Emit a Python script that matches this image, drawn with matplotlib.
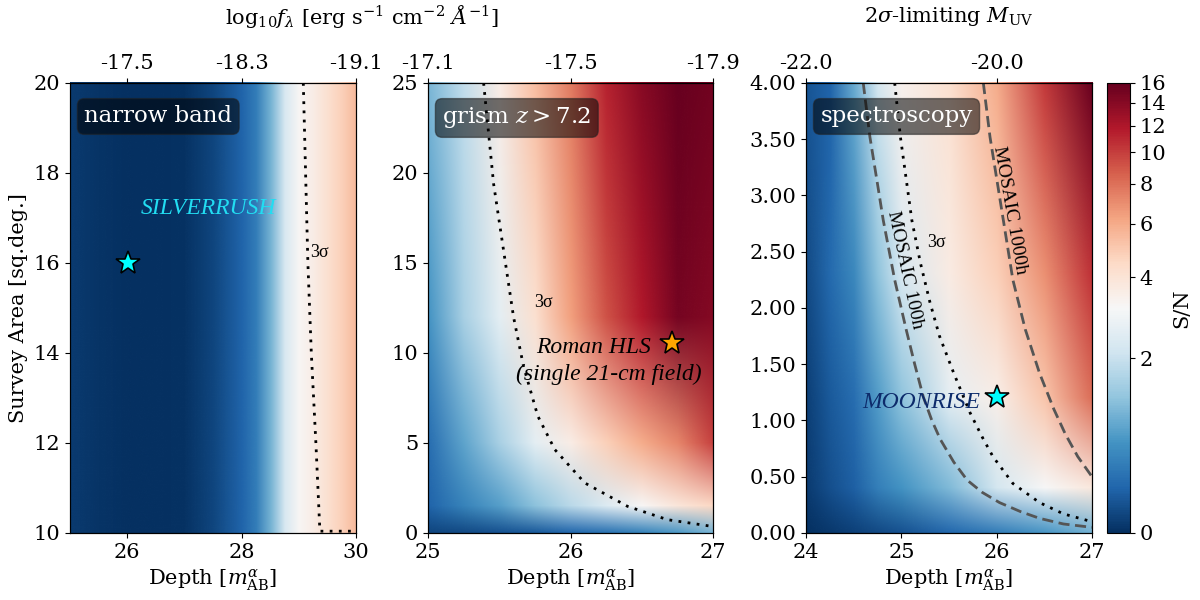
import numpy as np
import matplotlib
matplotlib.use("Agg")
import matplotlib.pyplot as plt
from matplotlib.colors import FuncNorm
from matplotlib.image import NonUniformImage

plt.rcParams['font.family'] = 'DejaVu Serif'
plt.rcParams['mathtext.fontset'] = 'dejavuserif'
plt.rcParams['font.size'] = 15

# ---------------- data ----------------
# narrow band: S/N vs depth (no area dependence)
nb_depth = [25, 25.5, 26, 26.5, 27, 27.5, 28, 28.25, 28.5, 28.75, 29, 29.25, 29.5, 29.75, 30]
nb_area = [10, 20]
nb_sn = [0.06, 0.03, 0.01, 0.0, 0.02, 0.12, 0.33, 0.55, 1.1, 2.3, 3.2, 3.6, 4.2, 4.8, 5.5]
nb_3sig_depth = [29.08, 29.12, 29.16, 29.22, 29.30, 29.37, 29.45, 30.0]
nb_3sig_area = [20, 18, 16, 14, 12, 10.04, 10.04, 10.04]

# grism z>7.2
gr_depth = [25, 25.25, 25.5, 25.75, 26, 26.25, 26.5, 26.75, 27]
gr_area = [0, 1.5, 5, 12, 25]
gr_sn_a0 = [0.12, 0.15, 0.2, 0.25, 0.35, 0.45, 0.6, 0.85, 1.15]
gr_sn_a1 = [0.33, 0.6, 0.9, 1.3, 1.8, 2.4, 3.2, 3.9, 4.5]
gr_sn_a5 = [0.4, 0.95, 1.6, 2.6, 3.6, 4.8, 6.0, 7.2, 9.8]
gr_sn_a12 = [0.76, 1.6, 2.6, 4.2, 6.4, 9.2, 11.8, 15.0, 14.1]
gr_sn_a25 = [1.15, 1.9, 3.6, 5.4, 7.6, 11.2, 14.0, 16.0, 15.1]
gr_3sig_depth = [25.39, 25.46, 25.53, 25.60, 25.67, 25.77, 25.89, 26.10, 26.40, 26.68, 26.99]
gr_3sig_area = [25, 19.4, 15.7, 12.0, 9.26, 6.5, 4.63, 2.78, 1.48, 0.74, 0.37]

# spectroscopy
sp_depth = [24, 24.25, 24.5, 24.75, 25, 25.5, 26, 26.5, 27]
sp_area = [0, 0.4, 1.2, 2.3, 4.0]
sp_sn_a0 = [0.0, 0.05, 0.1, 0.15, 0.2, 0.35, 0.55, 0.8, 1.1]
sp_sn_a04 = [0.06, 0.19, 0.29, 0.57, 0.76, 1.2, 2.2, 3.1, 3.8]
sp_sn_a12 = [0.09, 0.25, 0.4, 0.86, 1.34, 2.65, 3.5, 5.1, 8.1]
sp_sn_a23 = [0.15, 0.37, 0.66, 1.34, 2.3, 3.65, 4.8, 6.9, 10.6]
sp_sn_a40 = [0.22, 0.33, 1.03, 2.2, 3.4, 4.2, 6.0, 10.2, 16.0]
sp_3sig_depth = [24.93, 24.99, 25.05, 25.11, 25.2, 25.3, 25.4, 25.55, 25.72, 25.85, 25.96,
                 26.17, 26.45, 26.7, 27.0]
sp_3sig_area = [4.0, 3.52, 3.15, 2.78, 2.4, 2.05, 1.75, 1.42, 1.07, 0.85, 0.68,
                0.44, 0.27, 0.17, 0.1]
sp_100h_depth = [24.6, 24.67, 24.75, 24.81, 24.93, 25.05, 25.14, 25.23, 25.32, 25.41, 25.55,
                 25.69, 25.85, 26.03, 26.25, 26.45, 26.7, 27.0]
sp_100h_area = [4.0, 3.52, 3.1, 2.78, 2.25, 1.81, 1.5, 1.21, 1.0, 0.83, 0.63,
                0.47, 0.36, 0.27, 0.19, 0.13, 0.08, 0.05]
sp_1000h_depth = [25.86, 25.93, 26.0, 26.07, 26.17, 26.30, 26.45, 26.6, 26.72, 26.85, 27.0]
sp_1000h_area = [4.0, 3.52, 3.15, 2.78, 2.25, 1.81, 1.42, 1.1, 0.88, 0.68, 0.5]

# top axis labels
nb_top_ticks = [26, 28, 30]
nb_top_labels = ['-17.5', '-18.3', '-19.1']
gr_top_ticks = [25, 26, 27]
gr_top_labels = ['-17.1', '-17.5', '-17.9']
sp_top_ticks = [24, 26]
sp_top_labels = ['-22.0', '-20.0']

cbar_ticks = [0, 2, 4, 6, 8, 10, 12, 14, 16]

# ---------------- plotting ----------------
norm = FuncNorm((np.log1p, np.expm1), vmin=0, vmax=16)
cmap = 'RdBu_r'
serif2 = 'Liberation Serif'
box = dict(boxstyle='round,pad=0.3', facecolor='black', alpha=0.55, edgecolor='#222222')


def sn_map(ax, x, y, z):
    im = NonUniformImage(ax, interpolation='bilinear', cmap=cmap, norm=norm,
                         extent=(x[0], x[-1], y[0], y[-1]))
    im.set_data(np.asarray(x, float), np.asarray(y, float), np.asarray(z, float))
    ax.add_image(im)
    return im


fig = plt.figure(figsize=(12, 6), dpi=100)
ax1 = fig.add_axes([0.0583, 0.1117, 0.2383, 0.75])
ax2 = fig.add_axes([0.3567, 0.1117, 0.2375, 0.75])
ax3 = fig.add_axes([0.6717, 0.1117, 0.2383, 0.75])
cax = fig.add_axes([0.9225, 0.1117, 0.0192, 0.75])

dot = dict(color='black', lw=2, linestyle=(0, (1, 2.3)))
dash = dict(color='#555555', lw=2, linestyle=(0, (4, 2)))

# narrow band
img = sn_map(ax1, nb_depth, nb_area, np.vstack([nb_sn, nb_sn]))
ax1.plot(nb_3sig_depth, nb_3sig_area, **dot)
ax1.text(29.2, 16.24, '3σ', fontsize=13, family=serif2, va='center')
ax1.plot(26.01, 16.0, marker='*', ms=18, mfc='cyan', mec='black', mew=1.2)
ax1.text(27.42, 17.22, 'SILVERRUSH', color='#22ddf2', fontsize=17, family=serif2,
         style='italic', ha='center', va='center')
ax1.text(0.05, 0.95, 'narrow band', transform=ax1.transAxes, color='white', fontsize=16.5,
         va='top', ha='left', bbox=box)
ax1.set_xlim(25, 30)
ax1.set_ylim(10, 20)
ax1.set_xticks([26, 28, 30])
ax1.set_yticks([10, 12, 14, 16, 18, 20])
ax1.set_ylabel('Survey Area [sq.deg.]')

# grism
gr_sn = np.array([gr_sn_a0, gr_sn_a1, gr_sn_a5, gr_sn_a12, gr_sn_a25])
sn_map(ax2, gr_depth, gr_area, gr_sn)
ax2.plot(gr_3sig_depth, gr_3sig_area, **dot)
ax2.text(25.81, 12.78, '3σ', fontsize=13, family=serif2, ha='center', va='center')
ax2.plot(26.71, 10.56, marker='*', ms=18, mfc='orange', mec='black', mew=1.2)
ax2.text(26.16, 10.28, 'Roman HLS', fontsize=17, family=serif2, style='italic',
         ha='center', va='center')
ax2.text(26.27, 8.8, '(single 21-cm field)', fontsize=17, family=serif2, style='italic',
         ha='center', va='center')
ax2.text(0.05, 0.95, r'grism $z>7.2$', transform=ax2.transAxes, color='white', fontsize=16.5,
         va='top', ha='left', bbox=box)
ax2.set_xlim(25, 27)
ax2.set_ylim(0, 25)
ax2.set_xticks([25, 26, 27])
ax2.set_yticks([0, 5, 10, 15, 20, 25])

# spectroscopy
sp_sn = np.array([sp_sn_a0, sp_sn_a04, sp_sn_a12, sp_sn_a23, sp_sn_a40])
sn_map(ax3, sp_depth, sp_area, sp_sn)
ax3.plot(sp_3sig_depth, sp_3sig_area, **dot)
ax3.plot(sp_100h_depth, sp_100h_area, **dash)
ax3.plot(sp_1000h_depth, sp_1000h_area, **dash)
ax3.text(25.37, 2.58, '3σ', fontsize=13, family=serif2, ha='center', va='center')
ax3.text(25.04, 2.34, 'MOSAIC 100h', fontsize=14, family=serif2, rotation=-78,
         ha='center', va='center')
ax3.text(26.14, 2.87, 'MOSAIC 1000h', fontsize=14, family=serif2, rotation=-80,
         ha='center', va='center')
ax3.plot(26.0, 1.21, marker='*', ms=18, mfc='cyan', mec='black', mew=1.2)
ax3.text(25.21, 1.16, 'MOONRISE', color='#0d2b6b', fontsize=17, family=serif2,
         style='italic', ha='center', va='center')
ax3.text(0.05, 0.95, 'spectroscopy', transform=ax3.transAxes, color='white', fontsize=16.5,
         va='top', ha='left', bbox=box)
ax3.set_xlim(24, 27)
ax3.set_ylim(0, 4)
ax3.set_xticks([24, 25, 26, 27])
ax3.set_yticks(np.arange(0, 4.01, 0.5))
ax3.yaxis.set_major_formatter(plt.FuncFormatter(lambda y, _: f'{y:.2f}'))

for ax, tt, tl in [(ax1, nb_top_ticks, nb_top_labels),
                   (ax2, gr_top_ticks, gr_top_labels),
                   (ax3, sp_top_ticks, sp_top_labels)]:
    ax.set_xlabel(r'Depth [$m^{\alpha}_{\rm AB}$]')
    top = ax.twiny()
    top.set_xlim(ax.get_xlim())
    top.set_xticks(tt)
    top.set_xticklabels(tl)

fig.text(362 / 1200, 1 - 17 / 600, r'log$_{10}f_{\lambda}$ [erg s$^{-1}$ cm$^{-2}$ $\AA^{-1}$]',
         ha='center', va='center')
fig.text(949 / 1200, 1 - 17 / 600, r'2$\sigma$-limiting $M_{\rm UV}$', ha='center', va='center')

cb = fig.colorbar(img, cax=cax)
cb.set_ticks(cbar_ticks)
cb.set_ticklabels([str(t) for t in cbar_ticks])
cb.set_label('S/N')

fig.savefig('out.png', dpi=100)
